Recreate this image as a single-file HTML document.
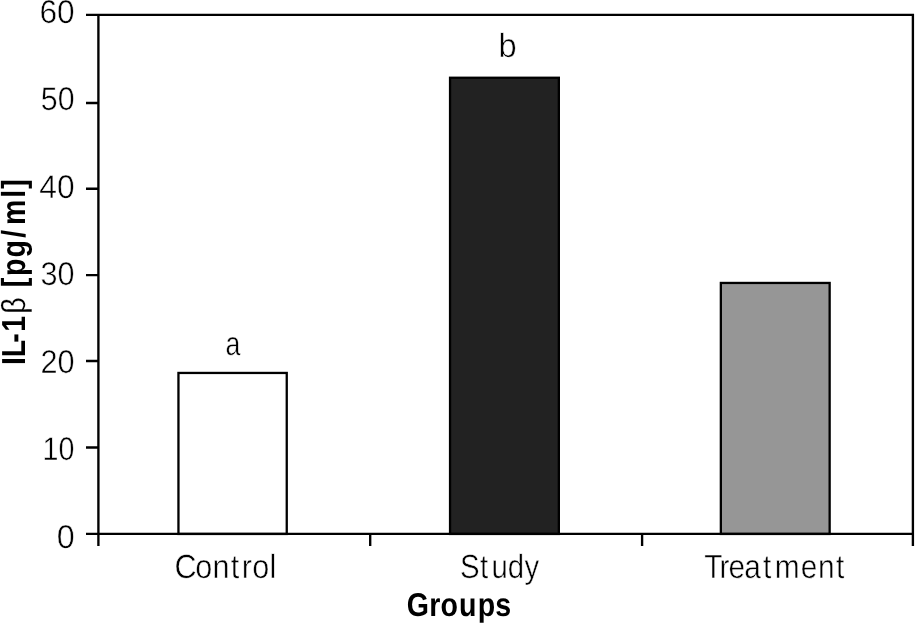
<!DOCTYPE html>
<html lang="en">
<head>
<meta charset="utf-8">
<title>IL-1β by group</title>
<style>
html,body{margin:0;padding:0;background:#fff;}
body{width:915px;height:623px;overflow:hidden;}
svg{display:block;}
text{font-family:"Liberation Sans",sans-serif;fill:#000;text-rendering:geometricPrecision;}
.r{stroke:#fff;stroke-width:0.5;stroke-linejoin:round;}
.b{font-weight:bold;}
.n{font-weight:normal;stroke:#fff;stroke-width:0.2;}
</style>
</head>
<body>
<svg width="915" height="623" viewBox="0 0 915 623">
<rect width="915" height="623" fill="#fff"/>
<!-- bars -->
<g stroke="#000" stroke-width="2.3">
<rect x="178.45" y="372.95" width="108.3" height="161" fill="#fff"/>
<rect x="450.05" y="77.75" width="108.8" height="456.2" fill="#222"/>
<rect x="720.85" y="282.95" width="108.8" height="251" fill="#969696"/>
</g>
<!-- frame + ticks -->
<g stroke="#000" stroke-width="2.35" fill="none">
<path d="M98.4 14.8V545.9M86 14.8H912.9V545.9M86 533.9H912.9"/>
<path d="M86 103H98.4M86 188.7H98.4M86 275.15H98.4M86 361H98.4M86 447.5H98.4"/>
<path d="M370.2 533.9V545.9M642.1 533.9V545.9"/>
</g>
<!-- y tick labels -->
<text class="r" font-size="32.8" transform="translate(0 23.05) scale(0.9646 1)" x="40.84" y="0">60</text>
<text class="r" font-size="32.8" transform="translate(0 110.25) scale(0.9251 1)" x="44.09" y="0">50</text>
<text class="r" font-size="32.8" transform="translate(0 197.85) scale(0.9681 1)" x="40.57" y="0">40</text>
<text class="r" font-size="32.8" transform="translate(0 285.15) scale(0.9322 1)" x="43.49" y="0">30</text>
<text class="r" font-size="32.8" transform="translate(0 373.25) scale(0.9344 1)" x="43.30" y="0">20</text>
<text class="r" font-size="32.8" transform="translate(0 460.25) scale(0.8730 1)" x="48.82" y="0">10</text>
<text class="r" font-size="32.8" transform="translate(0 547.95) scale(0.9854 1)" x="57.48" y="0">0</text>
<!-- category labels -->
<text class="r" font-size="33.5" transform="translate(0 577.80) scale(0.9131 1)" x="191.12 213.88 232.80 252.63 264.86 276.30 295.03" y="0">Control</text>
<text class="r" font-size="33.5" transform="translate(0 577.80) scale(0.8774 1)" x="524.21 547.01 560.28 578.75 597.89" y="0">Study</text>
<text class="r" font-size="33.5" transform="translate(0 577.80) scale(0.8916 1)" x="789.92 806.85 817.05 834.87 855.81 868.84 898.08 917.38 937.69" y="0">Treatment</text>
<text class="b" font-size="33" transform="translate(0 615.50) scale(0.8657 1)" x="469.74 495.99 508.71 530.26 551.96 572.20" y="0">Groups</text>
<text class="r" font-size="33.5" transform="translate(0 355.00) scale(0.7961 1)" x="283.20" y="0">a</text>
<text class="r" font-size="33.5" transform="translate(0 56.70) scale(0.9758 1)" x="510.77" y="0">b</text>
<!-- axis title -->
<text class="b" font-size="33.3" transform="translate(24.90 363.00) rotate(-90) scale(0.8541 1)" x="-2.34 6.79 23.68 36.52 57.66 76.81 88.62 101.76 123.62 146.76 161.52 193.38 204.06" y="0">IL-1<tspan class="n">β</tspan> [pg/ml]</text>
</svg>
</body>
</html>
